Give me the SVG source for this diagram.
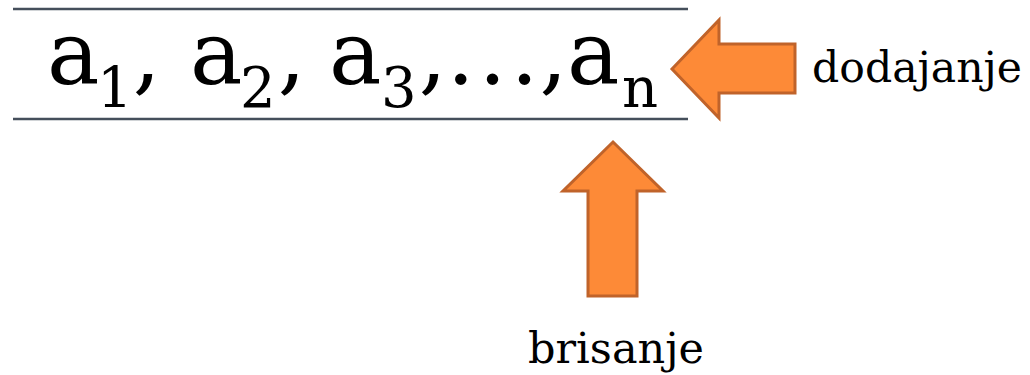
<svg xmlns="http://www.w3.org/2000/svg" width="1030" height="375" viewBox="0 0 1030 375">
<style>
.rule{stroke:#454f5b;stroke-width:2.5;fill:none}
.arrow{fill:#fd8a37;stroke:#c0632a;stroke-width:3;stroke-linejoin:miter}
.main{font-family:"DejaVu Serif","Liberation Serif",serif;font-size:88px;fill:#000}
.sub{font-size:56px}
.lbl{font-family:"DejaVu Serif","Liberation Serif",serif;font-size:43px;fill:#000}
</style>
<rect width="1030" height="375" fill="#fff"/>
<g id="sequence">
<line class="rule" x1="13" y1="9" x2="688" y2="9"/>
<line class="rule" x1="13" y1="119" x2="688" y2="119"/>
<text class="main" y="84"><tspan x="47">a</tspan><tspan class="sub" x="97" y="107">1</tspan><tspan y="84">,</tspan><tspan x="190">a</tspan><tspan class="sub" x="240" y="107">2</tspan><tspan dx="2" y="84">,</tspan><tspan x="329">a</tspan><tspan class="sub" x="381" y="107">3</tspan><tspan dx="2" y="84">,</tspan><tspan>.</tspan><tspan dx="4">.</tspan><tspan dx="4">.</tspan><tspan dx="1">,</tspan><tspan x="567">a</tspan><tspan class="sub" x="622" y="107">n</tspan></text>
</g>
<g id="add">
<polygon class="arrow" points="672,69 719,20 719,44 795,44 795,93 719,93 719,118"/>
<text class="lbl" x="812" y="82" textLength="210" lengthAdjust="spacingAndGlyphs">dodajanje</text>
</g>
<g id="remove">
<polygon class="arrow" points="613,142 663,191 637,191 637,296 588,296 588,191 563,191"/>
<text class="lbl" x="528" y="363" textLength="176" lengthAdjust="spacingAndGlyphs">brisanje</text>
</g>
</svg>
